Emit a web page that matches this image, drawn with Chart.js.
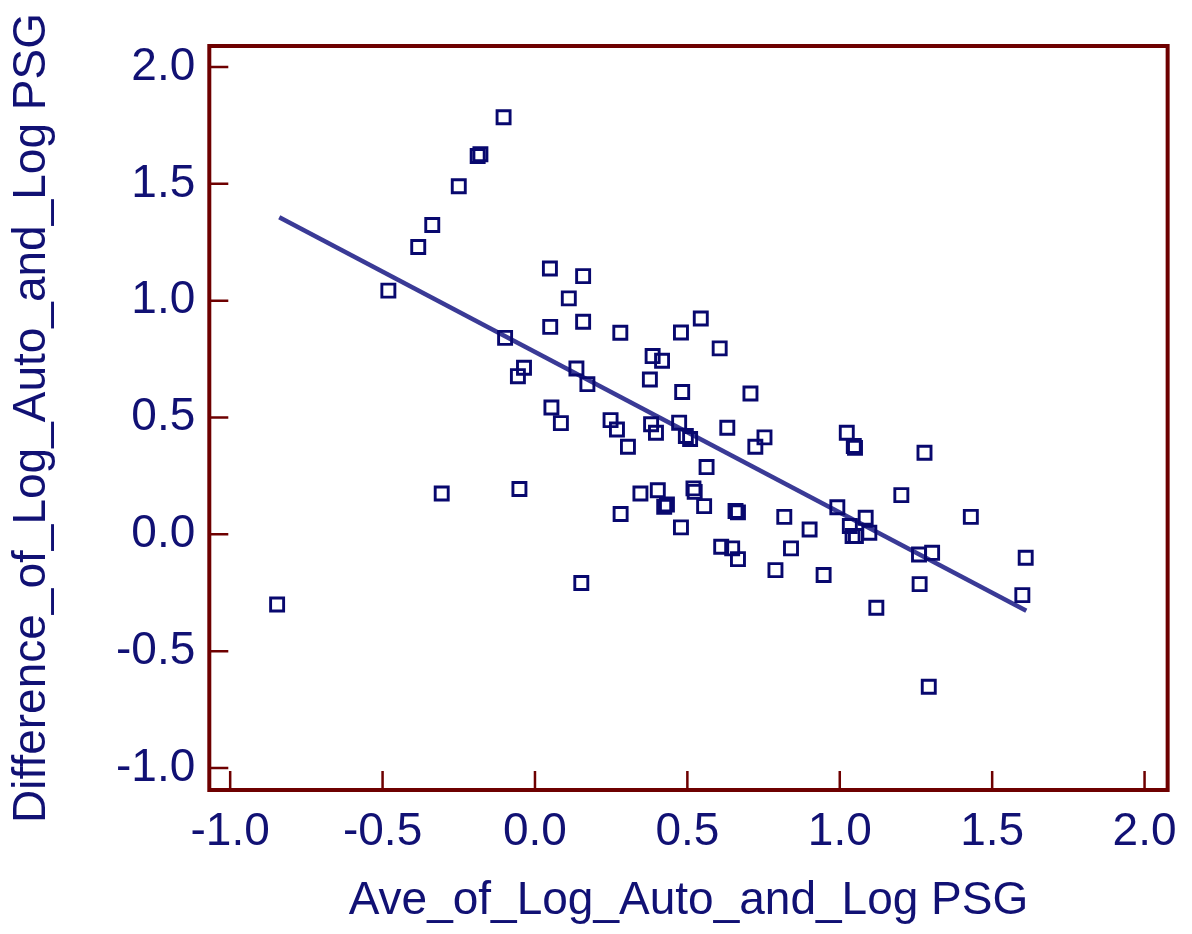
<!DOCTYPE html>
<html>
<head>
<meta charset="utf-8">
<script src="https://cdn.jsdelivr.net/npm/chart.js@4.4.1/dist/chart.umd.min.js"></script>
<style>
    html, body { margin: 0; padding: 0; background: #ffffff; }
    #wrap { width: 1192px; height: 934px; position: relative; }
</style>
</head>
<body>
<div id="wrap"><canvas id="chartBA"></canvas></div>
<script>
// data titik (average vs difference)
var aveValues = [
    -0.103, -0.188, -0.179, -0.250, -0.337, -0.383, -0.481, 0.049, 0.158, 0.111,
    0.050, 0.158, -0.098, 0.280, 0.479, 0.544, 0.606, 0.386, 0.417, 0.377,
    0.483, 0.707, -0.036, -0.056, 0.136, 0.172, 0.054, 0.085, 0.248, 0.269,
    0.305, 0.381, 0.397, 0.473, 0.495, 0.509, 0.631, 0.753, 0.723, 0.563,
    1.023, 1.046, 1.050, -0.306, -0.051, 0.346, 0.403, 0.424, 0.433, 0.520,
    0.524, 0.555, 0.658, 0.666, 0.281, 0.479, 0.818, 0.901, 0.992, 1.033,
    1.042, 0.611, 0.647, 0.666, 0.840, 0.789, 0.947, 0.152, 1.278, 1.202,
    1.430, 1.085, 1.053, 1.097, 1.260, 1.303, 1.262, 1.120, 1.610, 1.599,
    1.292, -0.846
];
var diffValues = [
    1.785, 1.619, 1.627, 1.490, 1.324, 1.230, 1.043, 1.138, 1.105, 1.010,
    0.888, 0.910, 0.841, 0.863, 0.864, 0.924, 0.796, 0.763, 0.743, 0.663,
    0.609, 0.603, 0.713, 0.677, 0.710, 0.643, 0.543, 0.476, 0.489, 0.449,
    0.375, 0.471, 0.435, 0.478, 0.421, 0.408, 0.456, 0.415, 0.375, 0.288,
    0.435, 0.378, 0.370, 0.175, 0.194, 0.175, 0.189, 0.118, 0.128, 0.197,
    0.182, 0.121, 0.100, 0.094, 0.087, 0.030, 0.075, 0.021, 0.116, 0.036,
    -0.007, -0.053, -0.060, -0.106, -0.060, -0.153, -0.174, -0.208, 0.349, 0.168,
    0.075, 0.071, -0.007, 0.007, -0.086, -0.079, -0.213, -0.314, -0.100, -0.260,
    -0.652, -0.300
];

// garis regresi (dua ujung)
var fitX = [-0.839, 1.612];
var fitY = [1.357, -0.327];

// label sumbu
var xTicks = [-1.0, -0.5, 0.0, 0.5, 1.0, 1.5, 2.0];
var yTicks = [-1.0, -0.5, 0.0, 0.5, 1.0, 1.5, 2.0];

var textColor = '#111174';
var frameColor = '#6e0000';
var fontFamily = "'Liberation Sans', Arial, sans-serif";

var pointsData = [];
for (var i = 0; i < aveValues.length; i++) {
    pointsData.push({ x: aveValues[i], y: diffValues[i] });
}

var fitData = [];
for (var j = 0; j < fitX.length; j++) {
    fitData.push({ x: fitX[j], y: fitY[j] });
}

// kotak bingkai + tick ke dalam
var framePlugin = {
    id: 'frame',
    afterDraw: function (chart) {
        var ctx = chart.ctx;
        var area = chart.chartArea;
        var xs = chart.scales.x;
        var ys = chart.scales.y;
        var tickLen = 19;

        ctx.save();
        ctx.strokeStyle = frameColor;
        ctx.lineWidth = 2.5;
        ctx.beginPath();
        for (var a = 0; a < xTicks.length; a++) {
            var px = xs.getPixelForValue(xTicks[a]);
            ctx.moveTo(px, area.bottom);
            ctx.lineTo(px, area.bottom - tickLen);
        }
        for (var b = 0; b < yTicks.length; b++) {
            var py = ys.getPixelForValue(yTicks[b]);
            ctx.moveTo(area.left, py);
            ctx.lineTo(area.left + tickLen, py);
        }
        ctx.stroke();

        ctx.lineWidth = 4;
        ctx.strokeRect(area.left, area.top, area.right - area.left, area.bottom - area.top);
        ctx.restore();
    }
};

var ctx = document.getElementById('chartBA').getContext('2d');
var myChart = new Chart(ctx, {
    type: 'scatter',
    data: {
        datasets: [
            {
                label: 'points',
                data: pointsData,
                pointStyle: 'rect',
                pointRadius: 9.2,
                pointBorderWidth: 2.9,
                pointBorderColor: '#08086e',
                pointBackgroundColor: 'rgba(0,0,0,0)',
                showLine: false,
                order: 0
            },
            {
                label: 'fit',
                data: fitData,
                showLine: true,
                borderColor: '#3a3a96',
                borderWidth: 4.5,
                pointRadius: 0,
                order: 1
            }
        ]
    },
    options: {
        responsive: true,
        maintainAspectRatio: false,
        animation: false,
        layout: {
            padding: { top: 46, right: 19.3, left: 0, bottom: 0 }
        },
        scales: {
            x: {
                type: 'linear',
                min: -1.0685,
                max: 2.0757,
                afterBuildTicks: function (scale) {
                    scale.ticks = xTicks.map(function (v) { return { value: v }; });
                },
                afterFit: function (scale) {
                    scale.height = 144;
                },
                grid: { display: false, drawTicks: false },
                border: { display: false },
                ticks: {
                    color: textColor,
                    padding: 15,
                    font: { family: fontFamily, size: 46 },
                    callback: function (v) { return v.toFixed(1); }
                },
                title: {
                    display: true,
                    text: 'Ave_of_Log_Auto_and_Log PSG',
                    color: textColor,
                    font: { family: fontFamily, size: 46 },
                    padding: { top: 0, bottom: 5 }
                }
            },
            y: {
                type: 'linear',
                min: -1.094,
                max: 2.09,
                afterBuildTicks: function (scale) {
                    scale.ticks = yTicks.map(function (v) { return { value: v }; });
                },
                afterFit: function (scale) {
                    scale.width = 209.3;
                },
                grid: { display: false, drawTicks: false },
                border: { display: false },
                ticks: {
                    color: textColor,
                    padding: 14,
                    font: { family: fontFamily, size: 46 },
                    callback: function (v) { return v.toFixed(1); }
                },
                title: {
                    display: true,
                    text: 'Difference_of_Log_Auto_and_Log PSG',
                    color: textColor,
                    font: { family: fontFamily, size: 46 },
                    padding: { top: 5, bottom: 0 }
                }
            }
        },
        plugins: {
            legend: { display: false },
            tooltip: { enabled: false }
        }
    },
    plugins: [framePlugin]
});
</script>
</body>
</html>
